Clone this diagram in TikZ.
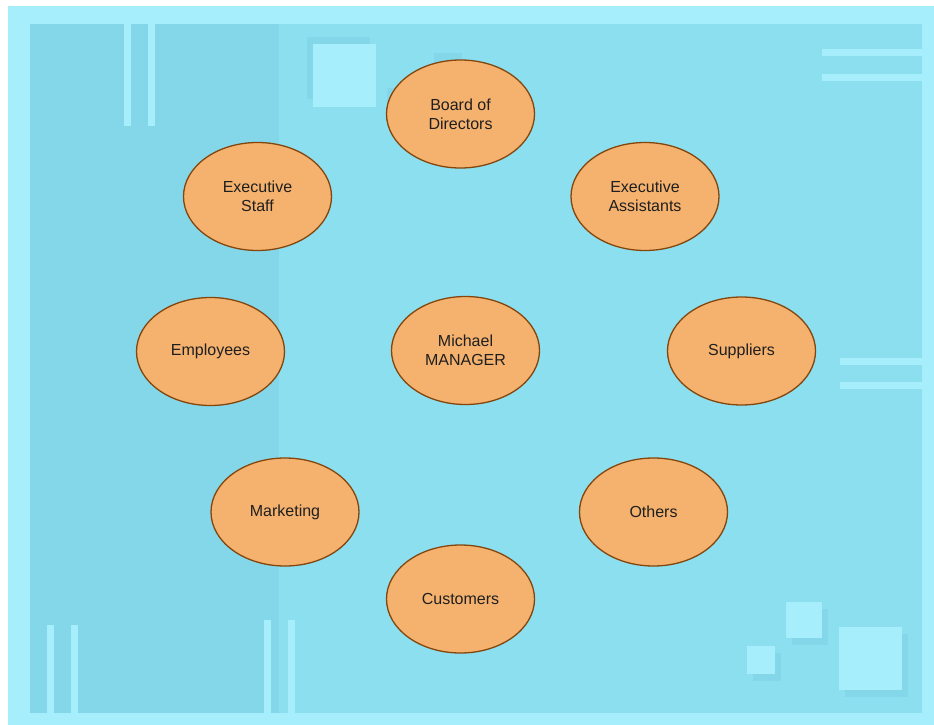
\documentclass[tikz,border=0pt]{standalone}
\usepackage{fontspec}
\setmainfont{Liberation Sans}
\usepackage{tikz}
\usetikzlibrary{shapes.geometric}
\definecolor{frameblue}{HTML}{A6EEFC}
\definecolor{panelblue}{HTML}{8BDFEF}
\definecolor{stripblue}{HTML}{84D7E8}
\definecolor{bubblefill}{HTML}{F5B26E}
\definecolor{bubbleline}{HTML}{84460C}
\tikzset{
    bubble/.style={ellipse, draw=bubbleline, line width=1.3pt, fill=bubblefill, minimum width=148pt, minimum height=108pt, inner sep=0pt, align=center, text=black!88, font=\fontsize{16}{19.3}\selectfont}, % 椭圆节点
    tile/.style={fill=frameblue}, % 浅色方块和线条
    shade/.style={fill=stripblue} % 方块的阴影
}
\begin{document}
\begin{tikzpicture}[x=1pt, y=-1pt]
    \useasboundingbox (0,0) rectangle (934,725);
    \fill[white] (0,0) rectangle (934,725);
    \fill[frameblue] (8,6) rectangle (934,725);
    \fill[panelblue] (30,24) rectangle (922,713);
    \fill[stripblue] (30,24) rectangle (279,713);

    % 竖线和横线
    \foreach \x in {124,148} {\fill[tile] (\x,24) rectangle (\x+6.5,126);}
    \foreach \x in {47,71} {\fill[tile] (\x,625) rectangle (\x+6.5,713);}
    \foreach \x in {264,288} {\fill[tile] (\x,620) rectangle (\x+6.5,713);}
    \foreach \y in {49,74} {\fill[tile] (822,\y) rectangle (922,\y+7);}
    \foreach \y in {358,382} {\fill[tile] (840,\y) rectangle (922,\y+6.5);}

    % 上方方块
    \fill[shade] (307,37) rectangle (370,99);
    \fill[tile] (313,44) rectangle (376,107);
    \fill[shade] (434,53) rectangle (462,81);
    \fill[tile] (442,66) rectangle (470,94);
    \fill[shade] (387,88) rectangle (424,125);
    \fill[tile] (397,98) rectangle (430,131);

    % 右下方块
    \foreach \x/\y/\s in {747/646/28, 786/602/36, 839/627/63} {
        \fill[shade] (\x+6,\y+7) rectangle (\x+\s+6,\y+\s+7);
        \fill[tile] (\x,\y) rectangle (\x+\s,\y+\s);
    }

    \node[bubble] (board) at (460.5,114) {Board of\\Directors};
    \node[bubble] (staff) at (257.5,196.5) {Executive\\Staff};
    \node[bubble] (assistants) at (645,196.5) {Executive\\Assistants};
    \node[bubble] (employees) at (210.5,351.5) {Employees};
    \node[bubble] (manager) at (465.5,350.5) {Michael\\MANAGER};
    \node[bubble] (suppliers) at (741.5,351) {Suppliers};
    \node[bubble] (marketing) at (285,512) {Marketing};
    \node[bubble] (others) at (653.5,512) {Others};
    \node[bubble] (customers) at (460.5,599) {Customers};
\end{tikzpicture}
\end{document}
